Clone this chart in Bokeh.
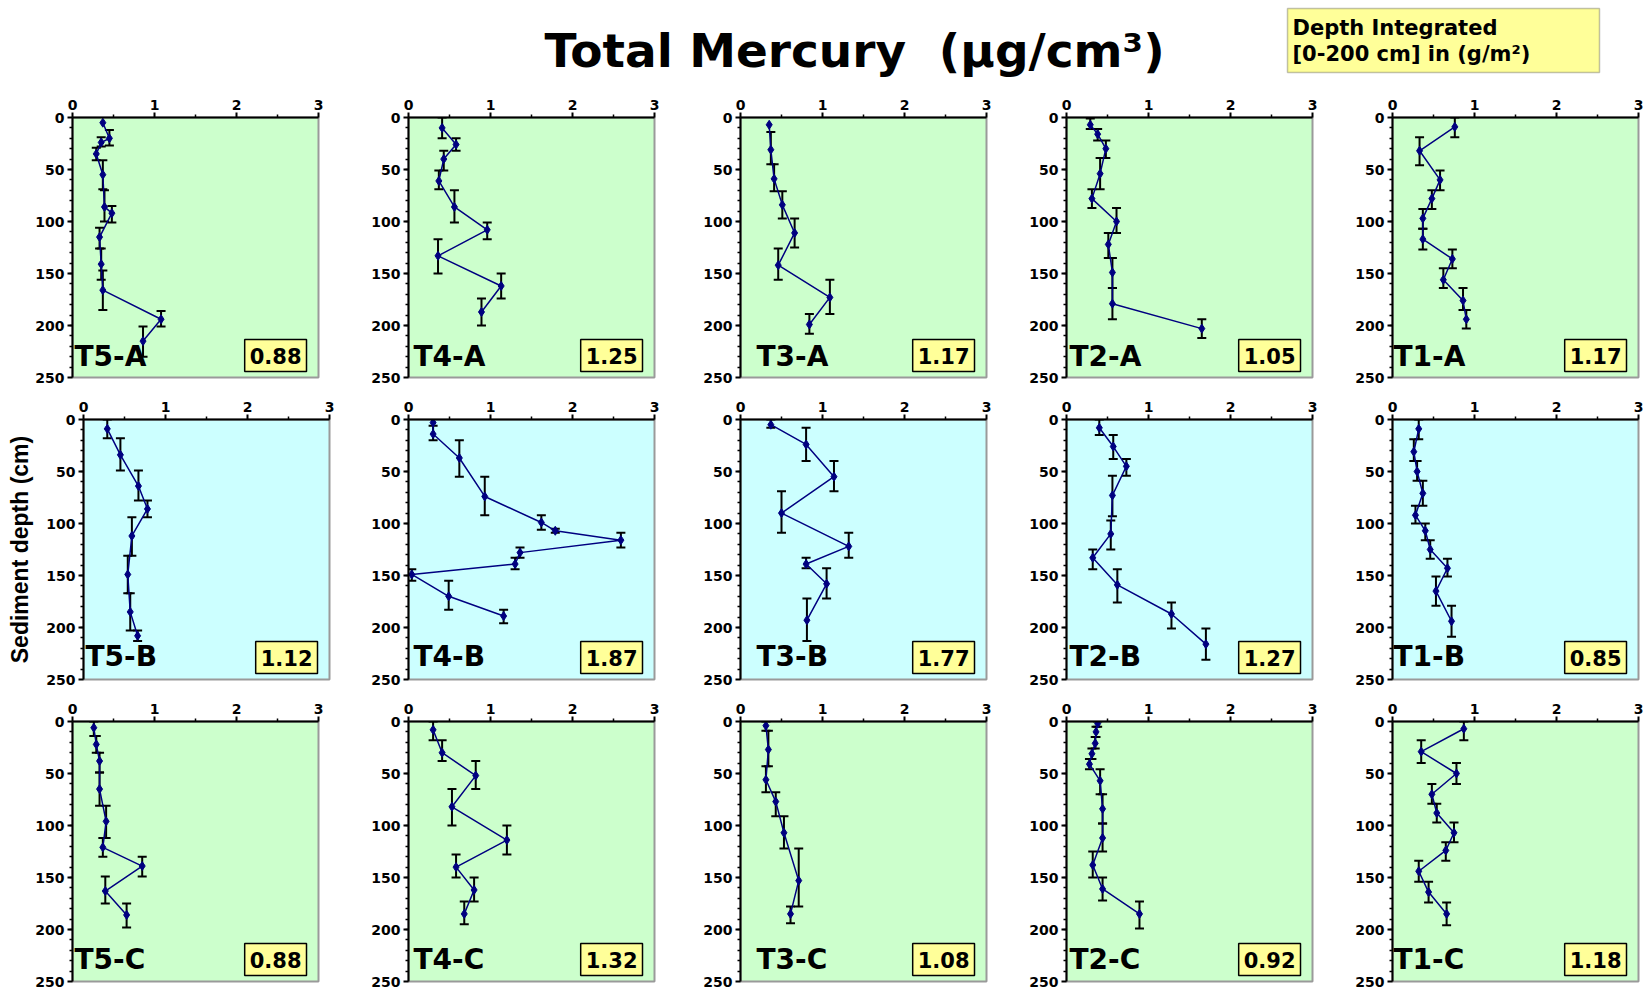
from bokeh.plotting import figure
from bokeh.models import (Range1d, FixedTicker, Label, Whisker, ColumnDataSource,
                          BoxAnnotation, TeeHead)
from bokeh.layouts import row, column
from bokeh.embed import file_html
from bokeh.resources import INLINE

# ---------------- data (Total Hg, ug/cm3 vs sediment depth, cm) ----------------
X_TICKS = [0, 1, 2, 3]
X_MINOR = [0.5, 1.5, 2.5]
Y_TICKS = [0, 50, 100, 150, 200, 250]
Y_MINOR = list(range(10, 250, 10))

# Row A
T5A_hg = [0.37, 0.45, 0.35, 0.29, 0.37, 0.39, 0.48, 0.33, 0.35, 0.37, 1.08, 0.86]
T5A_depth = [5, 20, 24, 35, 55, 86, 92, 115, 141, 166, 194, 215]
T5A_top = [5, 12, 19, 29, 41, 70, 85, 106, 126, 147, 186, 201]
T5A_bot = [5, 27, 28, 41, 69, 100, 101, 126, 156, 185, 201, 230]

T4A_hg = [0.41, 0.58, 0.43, 0.37, 0.56, 0.96, 0.36, 1.13, 0.89]
T4A_depth = [10, 26, 40, 61, 86, 108, 133, 162, 187]
T4A_top = [0, 20, 32, 51, 70, 101, 117, 150, 174]
T4A_bot = [20, 32, 51, 69, 101, 117, 150, 174, 200]

T3A_hg = [0.35, 0.37, 0.41, 0.51, 0.66, 0.46, 1.09, 0.84]
T3A_depth = [7, 31, 59, 84, 111, 142, 173, 199]
T3A_top = [7, 14, 45, 71, 97, 126, 156, 189]
T3A_bot = [7, 45, 71, 97, 125, 156, 189, 208]

T2A_hg = [0.29, 0.38, 0.48, 0.41, 0.31, 0.61, 0.51, 0.56, 0.56, 1.65]
T2A_depth = [7, 16, 30, 54, 78, 100, 122, 149, 179, 203]
T2A_top = [1, 11, 22, 39, 69, 87, 111, 135, 164, 194]
T2A_bot = [11, 22, 39, 69, 87, 111, 135, 164, 194, 212]

T1A_hg = [0.76, 0.33, 0.58, 0.48, 0.37, 0.37, 0.73, 0.62, 0.86, 0.90]
T1A_depth = [9, 32, 60, 78, 97, 117, 136, 156, 176, 194]
T1A_top = [0, 19, 51, 70, 88, 107, 127, 145, 164, 185]
T1A_bot = [19, 46, 70, 88, 107, 127, 145, 164, 185, 203]

# Row B
T5B_hg = [0.29, 0.45, 0.67, 0.78, 0.59, 0.54, 0.57, 0.66]
T5B_depth = [9, 34, 64, 86, 112, 149, 185, 208]
T5B_top = [0, 18, 49, 78, 94, 131, 167, 203]
T5B_bot = [18, 49, 78, 94, 131, 167, 203, 213]

T4B_hg = [0.30, 0.30, 0.62, 0.93, 1.62, 1.79, 2.59, 1.36, 1.30, 0.04, 0.49, 1.16]
T4B_depth = [3, 14, 37, 74, 99, 107, 116, 128, 139, 149, 170, 189]
T4B_top = [3, 6, 20, 55, 92, 105, 109, 123, 133, 144, 155, 183]
T4B_bot = [3, 20, 55, 92, 106, 109, 123, 133, 144, 155, 183, 196]

T3B_hg = [0.37, 0.80, 1.14, 0.50, 1.32, 0.80, 1.05, 0.81]
T3B_depth = [5, 24, 55, 90, 122, 139, 158, 193]
T3B_top = [0, 8, 40, 69, 109, 133, 143, 172]
T3B_bot = [8, 40, 69, 109, 133, 143, 172, 213]

T2B_hg = [0.40, 0.57, 0.73, 0.56, 0.54, 0.32, 0.62, 1.28, 1.70]
T2B_depth = [8, 26, 45, 73, 110, 133, 159, 187, 216]
T2B_top = [0, 15, 38, 54, 97, 125, 144, 176, 201]
T2B_bot = [15, 38, 54, 93, 125, 144, 176, 201, 231]

T1B_hg = [0.32, 0.26, 0.30, 0.37, 0.28, 0.40, 0.46, 0.67, 0.53, 0.72]
T1B_depth = [9, 31, 50, 71, 92, 107, 125, 143, 165, 194]
T1B_top = [0, 19, 40, 59, 83, 100, 116, 134, 151, 179]
T1B_bot = [19, 40, 59, 83, 100, 116, 134, 151, 179, 209]

# Row C
T5C_hg = [0.26, 0.29, 0.33, 0.33, 0.41, 0.37, 0.85, 0.40, 0.66]
T5C_depth = [6, 22, 38, 65, 96, 121, 139, 163, 186]
T5C_top = [0, 14, 30, 49, 81, 112, 130, 149, 175]
T5C_bot = [14, 30, 49, 81, 112, 130, 149, 175, 198]

T4C_hg = [0.30, 0.41, 0.82, 0.53, 1.20, 0.58, 0.80, 0.68]
T4C_depth = [8, 30, 52, 82, 114, 140, 162, 185]
T4C_top = [0, 18, 38, 65, 100, 128, 150, 173]
T4C_bot = [18, 38, 65, 100, 128, 150, 173, 195]

T3C_hg = [0.31, 0.34, 0.31, 0.43, 0.53, 0.71, 0.61]
T3C_depth = [4, 27, 56, 77, 107, 153, 185]
T3C_top = [0, 9, 43, 68, 91, 122, 178]
T3C_bot = [9, 43, 68, 91, 122, 178, 194]

T2C_hg = [0.38, 0.36, 0.35, 0.31, 0.28, 0.41, 0.44, 0.44, 0.32, 0.44, 0.89]
T2C_depth = [2, 10, 21, 31, 41, 57, 84, 112, 138, 161, 185]
T2C_top = [0, 5, 15, 26, 36, 46, 70, 98, 125, 150, 173]
T2C_bot = [5, 15, 26, 36, 46, 70, 98, 125, 150, 172, 199]

T1C_hg = [0.87, 0.35, 0.78, 0.48, 0.54, 0.75, 0.65, 0.32, 0.44, 0.66]
T1C_depth = [7, 29, 50, 70, 88, 107, 124, 144, 164, 185]
T1C_top = [0, 18, 40, 60, 79, 97, 116, 134, 154, 174]
T1C_bot = [18, 40, 60, 79, 97, 116, 134, 154, 174, 196]

# depth integrated [0-200 cm] inventories (g/m2)
DI_A = [0.88, 1.25, 1.17, 1.05, 1.17]
DI_B = [1.12, 1.87, 1.77, 1.27, 0.85]
DI_C = [0.88, 1.32, 1.08, 0.92, 1.18]

NAMES_A = ["T5-A", "T4-A", "T3-A", "T2-A", "T1-A"]
NAMES_B = ["T5-B", "T4-B", "T3-B", "T2-B", "T1-B"]
NAMES_C = ["T5-C", "T4-C", "T3-C", "T2-C", "T1-C"]

ROW_A = [(T5A_hg, T5A_depth, T5A_top, T5A_bot), (T4A_hg, T4A_depth, T4A_top, T4A_bot),
         (T3A_hg, T3A_depth, T3A_top, T3A_bot), (T2A_hg, T2A_depth, T2A_top, T2A_bot),
         (T1A_hg, T1A_depth, T1A_top, T1A_bot)]
ROW_B = [(T5B_hg, T5B_depth, T5B_top, T5B_bot), (T4B_hg, T4B_depth, T4B_top, T4B_bot),
         (T3B_hg, T3B_depth, T3B_top, T3B_bot), (T2B_hg, T2B_depth, T2B_top, T2B_bot),
         (T1B_hg, T1B_depth, T1B_top, T1B_bot)]
ROW_C = [(T5C_hg, T5C_depth, T5C_top, T5C_bot), (T4C_hg, T4C_depth, T4C_top, T4C_bot),
         (T3C_hg, T3C_depth, T3C_top, T3C_bot), (T2C_hg, T2C_depth, T2C_top, T2C_bot),
         (T1C_hg, T1C_depth, T1C_top, T1C_bot)]

# ---------------- styling / layout constants ----------------
FONT = "DejaVu Sans"
GREEN = "#ccffcc"
CYAN = "#ccffff"
NAVY = "#000080"
COL_W = [336, 332, 326, 326, 323]
FRAME_W = 246
ROW_H = 302
LAB_DX = [2, 5, 16, 3, 1]


def make_panel(name, data, di, bg, col, row_lab_dy, left=72, ylabel=None):
    hg, depth, top, bot = data
    right = COL_W[col] - left - FRAME_W
    p = figure(width=COL_W[col], height=ROW_H, x_range=Range1d(0, 3),
               y_range=Range1d(250, 0), x_axis_location="above",
               output_backend="svg", toolbar_location=None,
               min_border_left=left, min_border_right=right,
               min_border_top=30, min_border_bottom=12)
    p.background_fill_color = bg
    p.border_fill_color = "white"
    p.outline_line_color = "#9a9a9a"
    p.outline_line_width = 2
    p.grid.visible = False

    p.xaxis.ticker = FixedTicker(ticks=X_TICKS, minor_ticks=X_MINOR)
    p.yaxis.ticker = FixedTicker(ticks=Y_TICKS, minor_ticks=Y_MINOR)
    for ax in p.axis:
        ax.axis_line_color = "black"
        ax.axis_line_width = 2
        ax.major_tick_in = 0
        ax.major_tick_out = 5
        ax.minor_tick_in = 0
        ax.minor_tick_out = 3
        ax.major_tick_line_width = 2
        ax.minor_tick_line_width = 1.5
        ax.major_tick_line_color = "black"
        ax.minor_tick_line_color = "black"
        ax.major_label_text_font = FONT
        ax.major_label_text_font_style = "bold"
        ax.major_label_text_font_size = "14px"
        ax.major_label_text_color = "black"
        ax.major_label_standoff = 3
    if ylabel:
        p.yaxis.axis_label = ylabel
        p.yaxis.axis_label_text_font = "Liberation Sans"
        p.yaxis.axis_label_text_font_style = "bold"
        p.yaxis.axis_label_text_font_size = "23px"
        p.yaxis.axis_label_text_color = "black"
        p.yaxis.axis_label_standoff = 10

    # error bars (depth interval of each slice)
    ex, elo, ehi = [], [], []
    for xv, t, b in zip(hg, top, bot):
        if b > t:
            ex.append(xv)
            elo.append(t)
            ehi.append(b)
    esrc = ColumnDataSource(dict(x=ex, lo=elo, hi=ehi))
    p.add_layout(Whisker(source=esrc, base="x", lower="lo", upper="hi",
                         dimension="height", line_color="black", line_width=2,
                         upper_head=TeeHead(size=9, line_color="black", line_width=2),
                         lower_head=TeeHead(size=9, line_color="black", line_width=2)))

    src = ColumnDataSource(dict(x=hg, y=depth))
    p.line("x", "y", source=src, line_color=NAVY, line_width=1.5)
    p.scatter("x", "y", source=src, marker="diamond", size=9, color=NAVY)

    p.add_layout(Label(x=0, y=250, x_offset=LAB_DX[col], y_offset=row_lab_dy,
                       text=name, text_font=FONT, text_font_style="bold",
                       text_font_size="28px", text_color="black",
                       text_baseline="alphabetic", text_align="left"))
    padx, pady = 5, 8
    p.add_layout(Label(x=3, y=250, x_offset=-(7 + padx), y_offset=pady - 2,
                       text=f"{di:.2f}", text_font=FONT, text_font_style="bold",
                       text_font_size="21px", text_color="black",
                       text_align="right", text_baseline="bottom",
                       background_fill_color="#ffff99", background_fill_alpha=1,
                       border_line_color="black", border_line_width=1.5,
                       padding=(padx, pady)))
    return p


# ---------------- title strip ----------------
top_fig = figure(width=1643, height=87, x_range=Range1d(0, 1643), y_range=Range1d(87, 0),
                 x_axis_location=None, y_axis_location=None, output_backend="svg",
                 toolbar_location=None, min_border=0)
top_fig.outline_line_color = None
top_fig.grid.visible = False
top_fig.add_layout(Label(x=854, y=50, text="Total Mercury\u00a0 (µg/cm³)", text_font=FONT,
                         text_font_style="bold", text_font_size="47px", text_color="black",
                         text_align="center", text_baseline="alphabetic"))
top_fig.add_layout(BoxAnnotation(left=1287, right=1599, top=8, bottom=72,
                                 fill_color="#ffff99", fill_alpha=1,
                                 line_color="#333333", line_width=1.5))
top_fig.add_layout(Label(x=1292, y=27, text="Depth Integrated", text_font=FONT,
                         text_font_style="bold", text_font_size="21px", text_color="black",
                         text_baseline="alphabetic"))
top_fig.add_layout(Label(x=1292, y=53, text="[0-200 cm] in (g/m²)", text_font=FONT,
                         text_font_style="bold", text_font_size="21px", text_color="black",
                         text_baseline="alphabetic"))

figs_a = [make_panel(NAMES_A[i], ROW_A[i], DI_A[i], GREEN, i, 21) for i in range(5)]
figs_b = [make_panel(NAMES_B[i], ROW_B[i], DI_B[i], CYAN, i, 23,
                     left=(83 if i == 0 else 72),
                     ylabel=("Sediment depth (cm)" if i == 0 else None)) for i in range(5)]
figs_c = [make_panel(NAMES_C[i], ROW_C[i], DI_C[i], GREEN, i, 22) for i in range(5)]

layout = column(top_fig, row(*figs_a), row(*figs_b), row(*figs_c))

open("out.html", "w").write(file_html(layout, INLINE))
